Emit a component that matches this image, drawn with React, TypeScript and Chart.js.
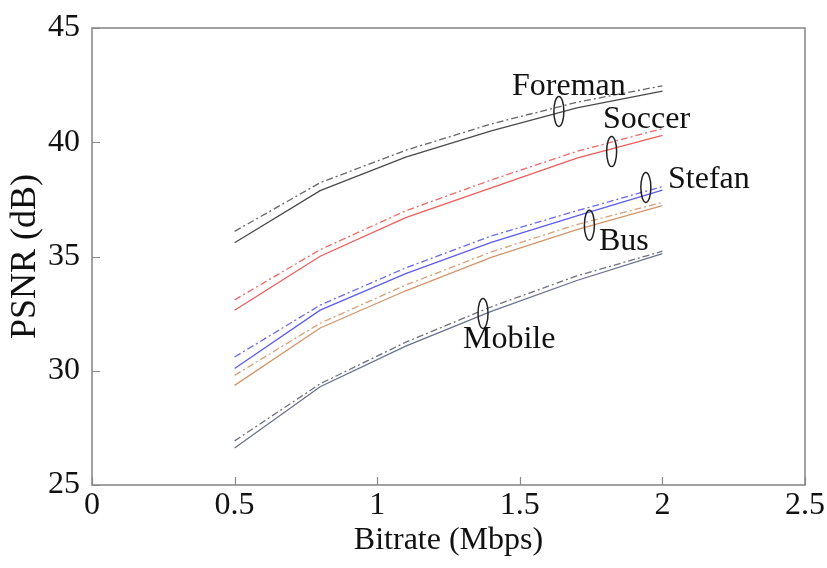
import React, { useEffect, useRef } from "react";
import { Chart, registerables } from "chart.js";

Chart.register(...registerables);

// Bitrate samples (Mbps)
const bitrates = [0.5, 0.8, 1.1, 1.4, 1.7, 2.0];

// PSNR (dB): solid = first method, dash-dot = second method
const foremanSolid = [35.6, 37.88, 39.35, 40.5, 41.5, 42.24];
const foremanDash = [36.1, 38.23, 39.65, 40.8, 41.75, 42.47];
const soccerSolid = [32.65, 35.01, 36.7, 38.0, 39.3, 40.3];
const soccerDash = [33.1, 35.3, 37.0, 38.35, 39.6, 40.6];
const stefanSolid = [30.1, 32.65, 34.25, 35.62, 36.78, 37.9];
const stefanDash = [30.6, 32.87, 34.5, 35.9, 37.0, 38.06];
const busSolid = [29.36, 31.87, 33.5, 34.96, 36.18, 37.23];
const busDash = [29.8, 32.08, 33.75, 35.2, 36.4, 37.37];
const mobileSolid = [26.62, 29.3, 31.08, 32.6, 33.95, 35.13];
const mobileDash = [26.93, 29.43, 31.25, 32.8, 34.15, 35.23];

// Axis ranges and ticks
const xTicks = [0, 0.5, 1, 1.5, 2, 2.5];
const yTicks = [25, 30, 35, 40, 45];

// Sequence name tags and the ellipses that group each pair of curves (data units)
const tagNames = ["Foreman", "Soccer", "Stefan", "Bus", "Mobile"];
const tagX = [1.4727, 1.7917, 2.0196, 1.7777, 1.3008];
const tagY = [42.08, 40.64, 38.0, 35.3, 31.01];
const ringX = [1.637, 1.822, 1.942, 1.744, 1.371];
const ringY = [41.35, 39.59, 38.02, 36.37, 32.51];

const FONT = '"Liberation Serif", "Times New Roman", Times, serif';
const DASHDOT = [7, 3, 2, 3];

const series = [
  { values: foremanSolid, color: "#4a4a4a", dash: [] as number[] },
  { values: foremanDash, color: "#666666", dash: DASHDOT },
  { values: soccerSolid, color: "#ee5c5c", dash: [] as number[] },
  { values: soccerDash, color: "#ee6a6a", dash: DASHDOT },
  { values: stefanSolid, color: "#5c5cee", dash: [] as number[] },
  { values: stefanDash, color: "#6a6aee", dash: DASHDOT },
  { values: busSolid, color: "#d4946a", dash: [] as number[] },
  { values: busDash, color: "#d8a07a", dash: DASHDOT },
  { values: mobileSolid, color: "#6a7090", dash: [] as number[] },
  { values: mobileDash, color: "#707080", dash: DASHDOT },
];

const framePlugin = {
  id: "frameAndTags",
  afterDatasetsDraw(chart: any) {
    const { ctx, chartArea, scales } = chart;
    const xs = scales.x;
    const ys = scales.y;
    ctx.save();
    // inward tick marks
    ctx.strokeStyle = "#8a8a8a";
    ctx.lineWidth = 1.2;
    ctx.beginPath();
    for (const v of yTicks) {
      const py = Math.round(ys.getPixelForValue(v)) + 0.5;
      ctx.moveTo(chartArea.left, py);
      ctx.lineTo(chartArea.left + 8, py);
    }
    for (const v of xTicks) {
      const px = Math.round(xs.getPixelForValue(v)) + 0.5;
      ctx.moveTo(px, chartArea.bottom);
      ctx.lineTo(px, chartArea.bottom - 8);
    }
    ctx.stroke();
    // axes box
    ctx.strokeStyle = "#8a8a8a";
    ctx.lineWidth = 1.6;
    ctx.strokeRect(
      chartArea.left,
      chartArea.top,
      chartArea.right - chartArea.left,
      chartArea.bottom - chartArea.top
    );
    // grouping ellipses
    ctx.strokeStyle = "#222222";
    ctx.lineWidth = 1.5;
    for (let i = 0; i < ringX.length; i++) {
      const cx = xs.getPixelForValue(ringX[i]);
      const cy = ys.getPixelForValue(ringY[i]);
      ctx.beginPath();
      ctx.ellipse(cx, cy, 5, 15, 0, 0, Math.PI * 2);
      ctx.stroke();
    }
    // sequence names
    ctx.fillStyle = "#111111";
    ctx.font = `32px ${FONT}`;
    ctx.textAlign = "left";
    ctx.textBaseline = "alphabetic";
    for (let i = 0; i < tagNames.length; i++) {
      ctx.fillText(tagNames[i], xs.getPixelForValue(tagX[i]), ys.getPixelForValue(tagY[i]));
    }
    ctx.restore();
  },
};

export default function App() {
  const canvasRef = useRef<HTMLCanvasElement | null>(null);

  useEffect(() => {
    if (!canvasRef.current) return;
    const chart = new Chart(canvasRef.current, {
      type: "line",
      data: {
        datasets: series.map((s) => ({
          data: bitrates.map((b, i) => ({ x: b, y: s.values[i] })),
          borderColor: s.color,
          borderWidth: 1.3,
          borderDash: s.dash,
          pointRadius: 0,
          fill: false,
          tension: 0,
        })),
      },
      options: {
        responsive: false,
        animation: false,
        events: [],
        layout: { padding: { top: 19, right: 22, left: 0, bottom: 0 } },
        plugins: {
          legend: { display: false },
          tooltip: { enabled: false },
        },
        scales: {
          x: {
            type: "linear",
            min: 0,
            max: 2.5,
            border: { display: false },
            grid: { display: false, drawTicks: false },
            ticks: {
              stepSize: 0.5,
              padding: 1,
              color: "#111111",
              font: { family: FONT, size: 32, lineHeight: 1.25 },
              maxRotation: 0,
              autoSkip: false,
              callback: (v: any) => String(v),
            },
            title: {
              display: true,
              text: "Bitrate (Mbps)",
              color: "#111111",
              font: { family: FONT, size: 32, lineHeight: 1.2 },
              padding: { top: 0, bottom: 8 },
            },
            afterFit: (scale: any) => {
              scale.height = 83;
            },
          },
          y: {
            type: "linear",
            min: 25,
            max: 45,
            border: { display: false },
            grid: { display: false, drawTicks: false },
            ticks: {
              stepSize: 5,
              padding: 12,
              color: "#111111",
              font: { family: FONT, size: 32, lineHeight: 1 },
              callback: (v: any) => String(v),
            },
            title: {
              display: true,
              text: "PSNR (dB)",
              color: "#111111",
              font: { family: FONT, size: 36, lineHeight: 1.2 },
              padding: { top: 4, bottom: 0 },
            },
            afterFit: (scale: any) => {
              scale.width = 92;
            },
          },
        },
      },
      plugins: [framePlugin],
    });
    return () => chart.destroy();
  }, []);

  return (
    <div style={{ position: "fixed", left: 0, top: 0, width: 827, height: 568, background: "#ffffff" }}>
      <canvas ref={canvasRef} width={827} height={568} style={{ display: "block" }} />
    </div>
  );
}
